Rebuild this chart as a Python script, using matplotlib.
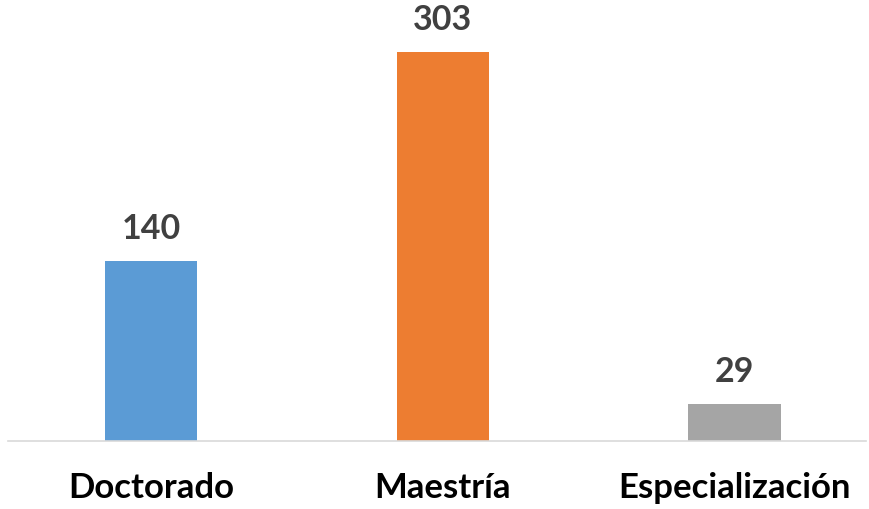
import numpy as np
import matplotlib.pyplot as plt

categories = ["Doctorado", "Maestría", "Especialización"]
values = [140, 303, 29]
colors = ["#5B9BD5", "#ED7D31", "#A5A5A5"]

fig = plt.figure(figsize=(8.69, 5.09), dpi=100)
ax = fig.add_axes([0.0092, 0.1336, 0.9873, 0.8664])

x = np.arange(len(categories))
bars = ax.bar(x, values, width=0.316, color=colors, zorder=2)

for xi, v in zip(x, values):
    ax.annotate(str(v), (xi, v), xytext=(0, 16), textcoords="offset pixels",
                ha="center", va="bottom", fontsize=24.5, fontweight="bold",
                color="#404040", family="Lato")

ax.set_xlim(-0.492, 2.451)
ax.set_ylim(0, 343.5)
ax.set_xticks(x)
ax.set_xticklabels(categories, fontsize=25, fontweight="bold", family="Lato", color="black")
ax.tick_params(axis="x", length=0, pad=22)
ax.set_yticks([])
for s in ["top", "left", "right"]:
    ax.spines[s].set_visible(False)
ax.spines["bottom"].set_color("#D9D9D9")
ax.spines["bottom"].set_linewidth(1.2)

fig.savefig("out.png", dpi=100)
